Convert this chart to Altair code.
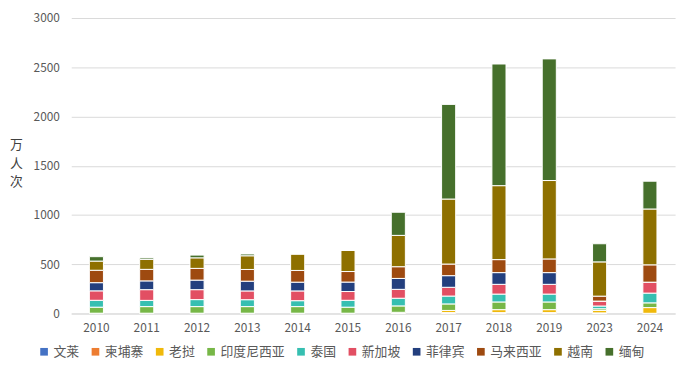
import altair as alt
import pandas as pd

years = ["2010", "2011", "2012", "2013", "2014", "2015", "2016", "2017", "2018", "2019", "2023", "2024"]
series = ["文莱", "柬埔寨", "老挝", "印度尼西亚", "泰国", "新加坡", "菲律宾", "马来西亚", "越南", "缅甸"]
colors = ["#4472C4", "#ED7D31", "#F0B90B", "#77B747", "#36BFB1", "#E24F63", "#233F7E", "#9E4A10", "#8E7000", "#46702C"]

brunei = [1, 1, 1, 1, 1, 1, 1, 1, 1, 1, 1, 1]
cambodia = [2, 2, 2, 2, 2, 2, 4, 8, 8, 8, 5, 1]
laos = [0, 0, 0, 0, 0, 0, 7, 22, 30, 30, 25, 58]
indonesia = [61, 67, 67, 67, 67, 61, 65, 66, 78, 78, 17, 48]
thailand = [70, 63, 71, 70, 60, 70, 78, 80, 80, 80, 28, 99]
singapore = [96, 109, 101, 89, 99, 89, 90, 89, 99, 99, 50, 111]
philippines = [83, 89, 97, 99, 89, 96, 111, 118, 119, 119, 0, 0]
malaysia = [126, 117, 119, 119, 119, 107, 119, 118, 132, 139, 50, 176]
vietnam = [93, 101, 107, 139, 167, 214, 318, 660, 751, 796, 348, 567]
myanmar = [45, 15, 28, 18, 0, 0, 235, 961, 1235, 1235, 184, 282]

values = [brunei, cambodia, laos, indonesia, thailand, singapore, philippines, malaysia, vietnam, myanmar]

rows = []
for si, (name, vals) in enumerate(zip(series, values)):
    for y, v in zip(years, vals):
        rows.append({"year": y, "country": name, "value": v, "idx": si})
df = pd.DataFrame(rows)

font = "Noto Sans CJK SC"

chart = alt.Chart(df).mark_bar(stroke="white", strokeWidth=1).encode(
    x=alt.X("year:N", sort=years, title=None,
            scale=alt.Scale(paddingInner=0.72, paddingOuter=0.36),
            axis=alt.Axis(labelAngle=0, ticks=False, domainColor="#d9d9d9", labelColor="#595959",
                          labelFontSize=12, labelFont=font, labelPadding=9, grid=False)),
    y=alt.Y("value:Q", stack="zero", title=["万", "人", "次"],
            scale=alt.Scale(domain=[0, 3000], nice=False),
            axis=alt.Axis(values=[0, 500, 1000, 1500, 2000, 2500, 3000], format="d", domain=False, ticks=False,
                          gridColor="#d9d9d9", labelColor="#595959", labelFontSize=12, labelFont=font,
                          labelPadding=12, titleAngle=0, titleFont=font, titleFontSize=13,
                          titleFontWeight="normal", titleColor="#404040", titleX=-56, titleY=122,
                          titleAlign="center", titleBaseline="top", titleLineHeight=19)),
    color=alt.Color("country:N", sort=series,
                    scale=alt.Scale(domain=series, range=colors),
                    legend=alt.Legend(orient="none", direction="horizontal", legendX=-34, legendY=331,
                                      title=None, symbolType="square", symbolSize=60, symbolStrokeWidth=0,
                                      labelFont=font, labelFontSize=13, labelColor="#595959",
                                      columnPadding=9, symbolOffset=0, labelOffset=3)),
    order=alt.Order("idx:Q", sort="ascending"),
).properties(
    width=611, height=299,
    autosize=alt.AutoSizeParams(type="none"),
    padding={"left": 64, "top": 8, "right": 6, "bottom": 50},
).configure_view(stroke=None)

chart.save("out.html", embed_options={"renderer": "svg", "actions": False})
